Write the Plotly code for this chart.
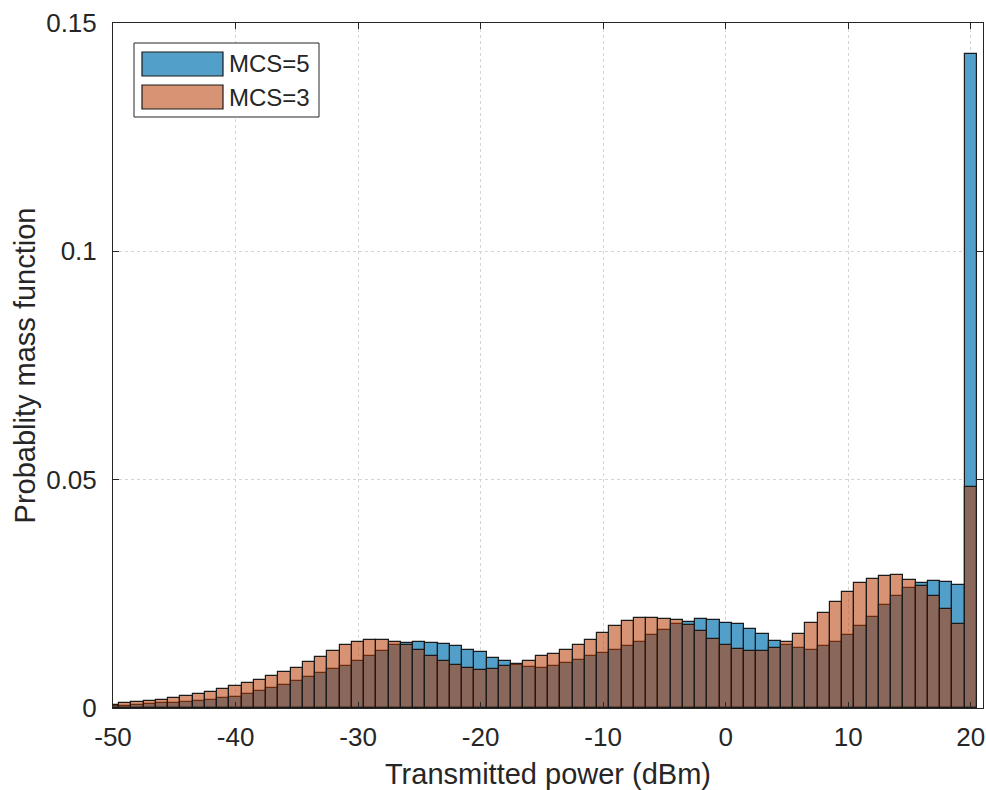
import plotly.graph_objects as go

# bin centres (dBm), width 1
power_bins = list(range(-50, 21))

pmf_mcs5 = [0.0004, 0.0005, 0.0007, 0.0008, 0.0010, 0.0011, 0.0013, 0.0015, 0.0018, 0.0021,
            0.0025, 0.0031, 0.0038, 0.0044, 0.0050, 0.0059, 0.0067, 0.0077, 0.0085, 0.0093,
            0.0102, 0.0114, 0.0124, 0.0137, 0.0143, 0.0145, 0.0143, 0.0141, 0.0136, 0.0128,
            0.0122, 0.0110, 0.0102, 0.0094, 0.0090, 0.0087, 0.0093, 0.0099, 0.0106, 0.0113,
            0.0120, 0.0126, 0.0135, 0.0145, 0.0159, 0.0170, 0.0183, 0.0189, 0.0194, 0.0193,
            0.0187, 0.0183, 0.0174, 0.0162, 0.0147, 0.0138, 0.0131, 0.0128, 0.0135, 0.0145,
            0.0160, 0.0179, 0.0200, 0.0225, 0.0245, 0.0262, 0.0274, 0.0279, 0.0276, 0.0270,
            0.1432]

pmf_mcs3 = [0.0007, 0.0010, 0.0013, 0.0015, 0.0018, 0.0021, 0.0026, 0.0030, 0.0036, 0.0042,
            0.0048, 0.0055, 0.0062, 0.0069, 0.0078, 0.0088, 0.0100, 0.0112, 0.0125, 0.0138,
            0.0145, 0.0150, 0.0150, 0.0144, 0.0137, 0.0128, 0.0114, 0.0104, 0.0094, 0.0088,
            0.0084, 0.0086, 0.0091, 0.0097, 0.0103, 0.0114, 0.0119, 0.0128, 0.0139, 0.0149,
            0.0164, 0.0180, 0.0190, 0.0197, 0.0197, 0.0195, 0.0192, 0.0181, 0.0168, 0.0152,
            0.0138, 0.0129, 0.0124, 0.0125, 0.0131, 0.0145, 0.0163, 0.0186, 0.0208, 0.0232,
            0.0255, 0.0273, 0.0283, 0.0290, 0.0291, 0.0281, 0.0268, 0.0246, 0.0216, 0.0183,
            0.0483]

series_names = ["MCS=5", "MCS=3"]
x_tick_vals = [-50, -40, -30, -20, -10, 0, 10, 20]
x_tick_text = ["-50", "-40", "-30", "-20", "-10", "0", "10", "20"]
y_tick_vals = [0, 0.05, 0.1, 0.15]
y_tick_text = ["0", "0.05", "0.1", "0.15"]

BLUE = "rgb(82,160,201)"
ORANGE = "rgba(182,58,0,0.55)"
FONT = "Arial, Liberation Sans, sans-serif"
TXT = "#262626"

W, H = 986, 790
L, R, T, B = 113, 983, 23, 708   # plot-area edges in window pixels

fig = go.Figure()
fig.add_trace(go.Bar(x=power_bins, y=pmf_mcs5, width=1, name=series_names[0],
                     marker=dict(color=BLUE, line=dict(color="#1a1a1a", width=1.2)),
                     showlegend=False))
fig.add_trace(go.Bar(x=power_bins, y=pmf_mcs3, width=1, name=series_names[1],
                     marker=dict(color=ORANGE, line=dict(color="#1a1a1a", width=1.2)),
                     showlegend=False))

axis_common = dict(
    showline=True, linecolor=TXT, linewidth=1, mirror="ticks",
    ticks="inside", ticklen=6, tickcolor=TXT, tickwidth=1,
    showgrid=True, gridcolor="#d4d4d4", griddash="dot", gridwidth=1,
    zeroline=False, automargin=False,
    tickfont=dict(family=FONT, size=26, color=TXT),
)

fig.update_layout(
    width=W, height=H,
    margin=dict(l=L, r=W - R, t=T, b=H - B),
    paper_bgcolor="white", plot_bgcolor="white",
    barmode="overlay", bargap=0,
    xaxis=dict(range=[-50, 21], tickvals=x_tick_vals, ticktext=x_tick_text,
               ticklabelstandoff=6,
               title=dict(text="Transmitted power (dBm)", font=dict(family=FONT, size=29, color=TXT), standoff=13),
               **axis_common),
    yaxis=dict(range=[0, 0.15], tickvals=y_tick_vals, ticktext=y_tick_text,
               ticklabelstandoff=10,
               title=dict(text="Probablity mass function", font=dict(family=FONT, size=29, color=TXT), standoff=2),
               **axis_common),
)

# legend box (MATLAB style, wide swatches); positions given in window pixels
def px_x(p):
    return (p - L) / (R - L)

def px_y(p):
    return 1 - (p - T) / (B - T)

fig.add_shape(type="rect", xref="paper", yref="paper",
              x0=px_x(134), x1=px_x(319), y0=px_y(117), y1=px_y(43),
              line=dict(color=TXT, width=1), fillcolor="white", layer="above")
swatches = [(BLUE, 52, 76), (ORANGE, 85, 109)]
for (col, top, bot), name in zip(swatches, series_names):
    fig.add_shape(type="rect", xref="paper", yref="paper",
                  x0=px_x(142), x1=px_x(223), y0=px_y(bot), y1=px_y(top),
                  line=dict(color="#1a1a1a", width=1.2), fillcolor=col, layer="above")
    fig.add_annotation(xref="paper", yref="paper", x=px_x(227), y=px_y((top + bot) / 2),
                       text=name, showarrow=False, xanchor="left", yanchor="middle",
                       font=dict(family=FONT, size=24, color=TXT))

fig.write_html("out.html",
               config={"displayModeBar": False},
               post_script="document.body.style.margin='0';document.body.style.overflow='hidden';")
